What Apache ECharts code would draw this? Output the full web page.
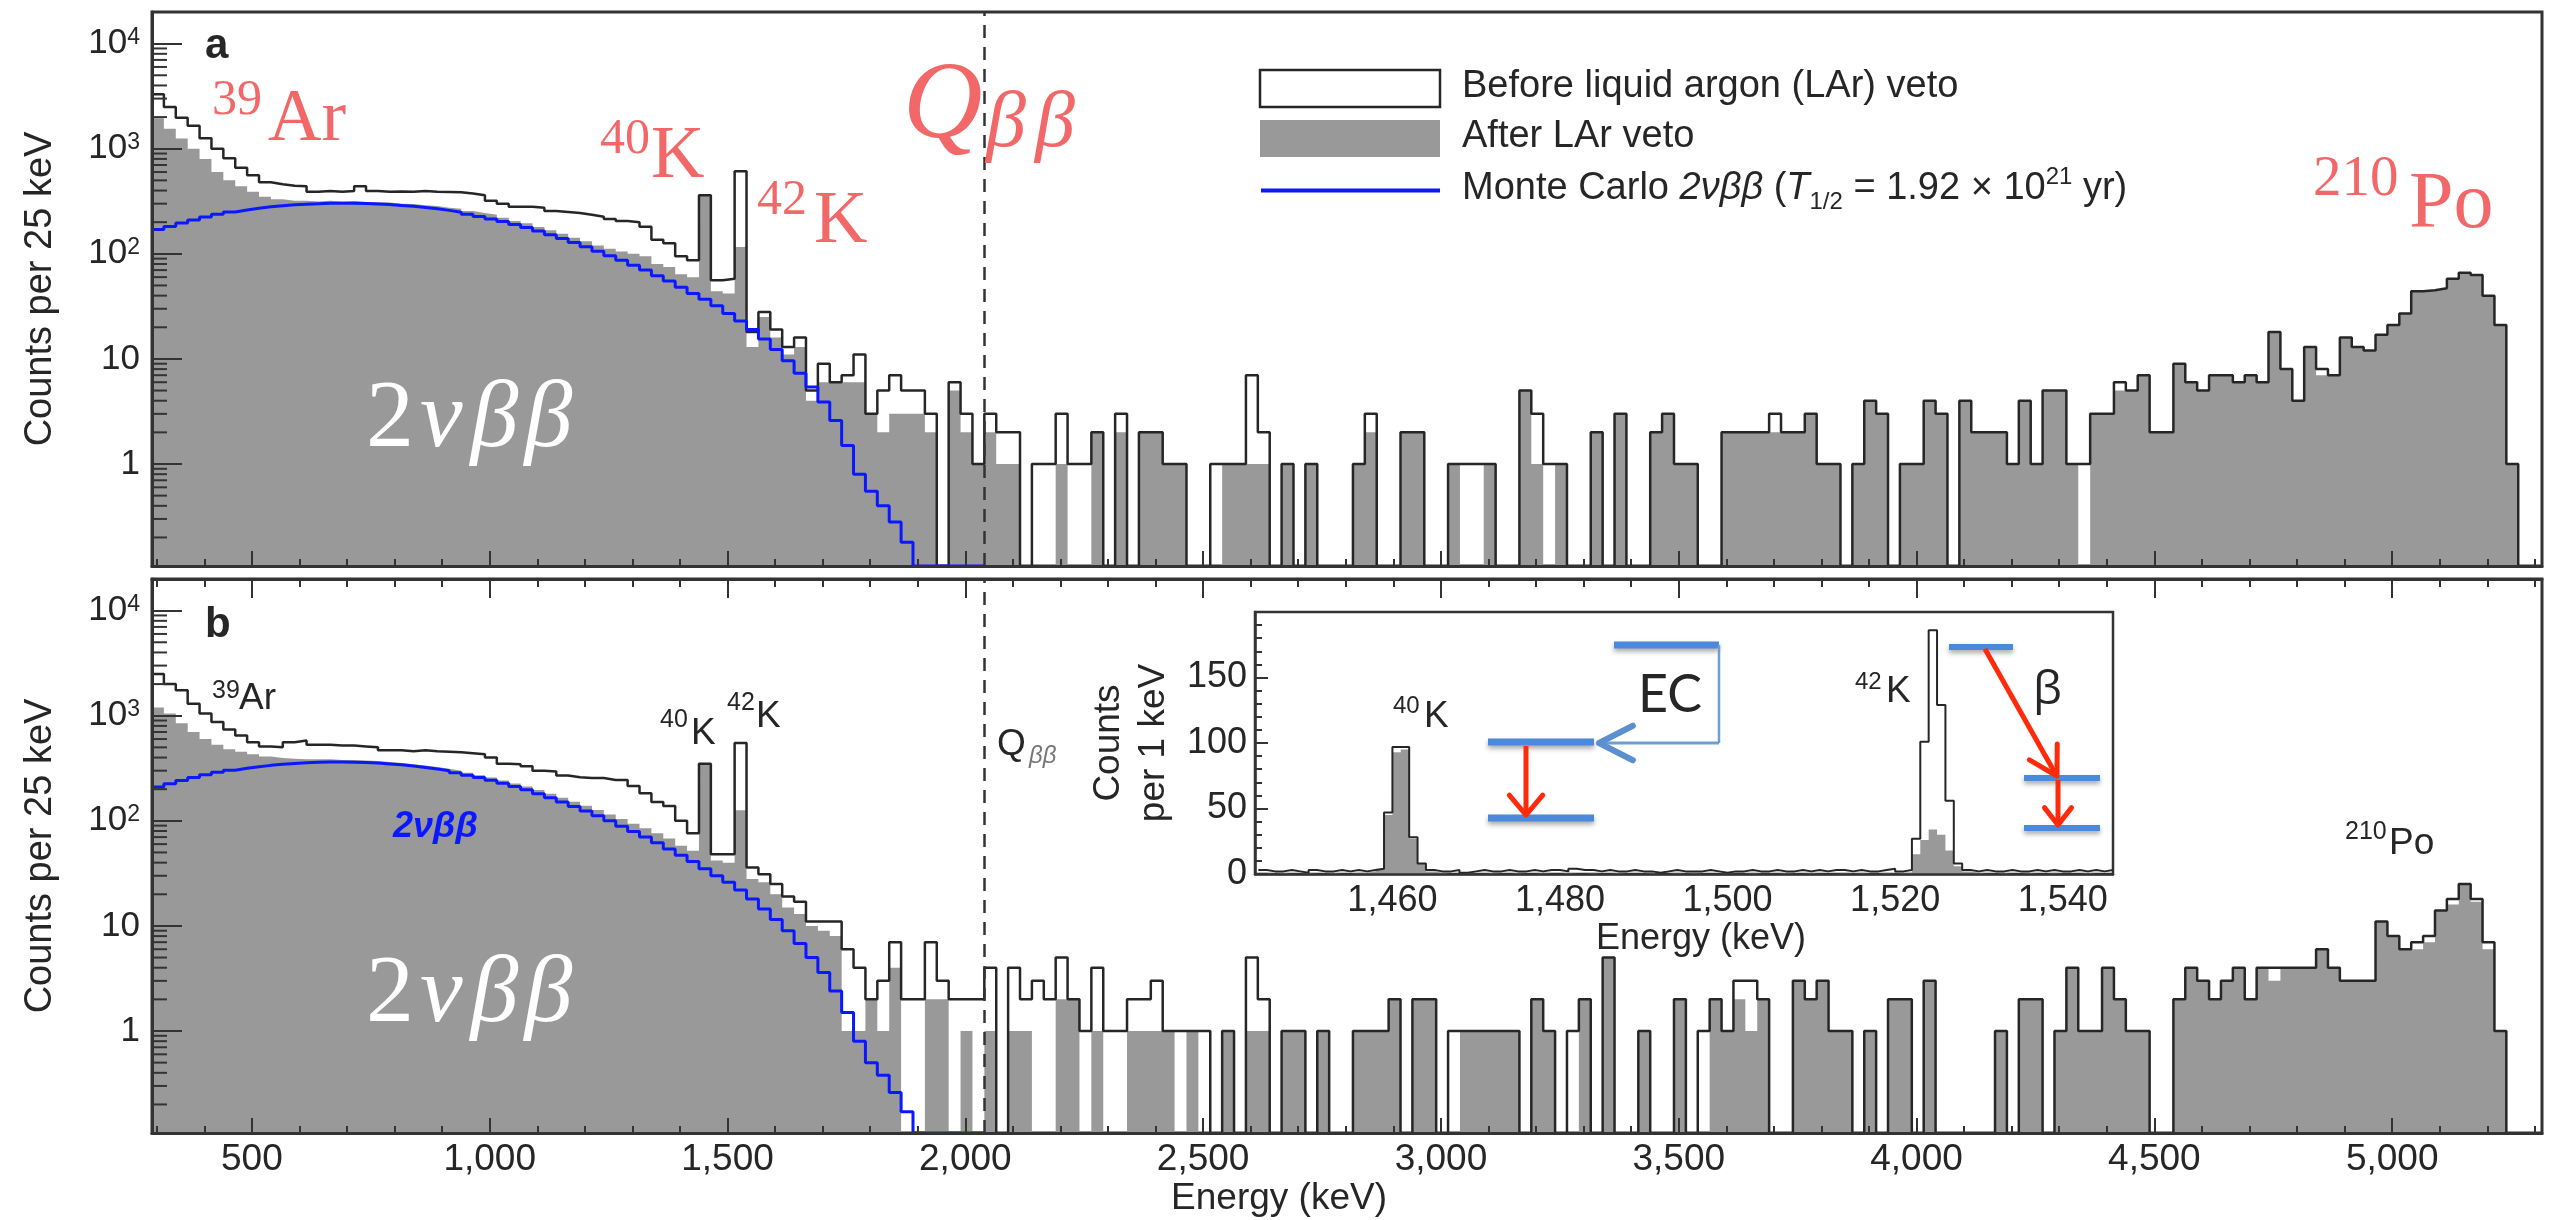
<!DOCTYPE html>
<html>
<head>
<meta charset="utf-8">
<script src="https://cdn.jsdelivr.net/npm/echarts@6.0.0/dist/echarts.min.js"></script>
<style>
  html, body { margin: 0; padding: 0; background: #fff; }
  #chart { width: 2555px; height: 1220px; }
</style>
</head>
<body>
<div id="chart"></div>
<script>
// ---- binning: 25 keV bins starting at 290 keV (bin k covers 290+25k .. 315+25k)
const BIN_START = 290;
const BIN_WIDTH = 25;
const Q_BB = 2039;
const ENERGY_TICKS = [500, 1000, 1500, 2000, 2500, 3000, 3500, 4000, 4500, 5000];

// ---- panel a: counts per 25 keV
const A_BEFORE = [
  3300, 2500, 1970, 1650, 1260, 1000, 810, 660, 560, 480,
  460, 445, 440, 390, 395, 390, 395, 440, 395, 390,
  392, 390, 395, 390, 388, 385, 375, 360, 320, 300,
  280, 280, 275, 255, 250, 245, 235, 225, 215, 205,
  200, 181, 136, 126, 95, 87, 360, 56, 58, 609,
  18, 28, 19, 13, 16, 5, 9, 6, 7, 11,
  3, 5, 7, 5, 5, 3, 0, 6, 3, 1,
  3, 2, 2, 0, 1, 1, 3, 1, 1, 2,
  0, 3, 0, 2, 2, 1, 1, 0, 0, 1,
  1, 1, 7, 2, 0, 1, 0, 1, 0, 0,
  0, 1, 3, 0, 0, 2, 2, 0, 0, 1,
  1, 1, 1, 0, 0, 5, 3, 1, 1, 0,
  0, 2, 0, 3, 0, 0, 2, 3, 1, 1,
  0, 0, 2, 2, 2, 2, 3, 2, 2, 3,
  1, 1, 0, 1, 4, 3, 0, 1, 1, 4,
  3, 0, 4, 2, 2, 2, 1, 4, 1, 5,
  5, 1, 1, 3, 3, 6, 5, 7, 2, 2,
  9, 6, 5, 7, 7, 6, 7, 6, 18, 8,
  4, 13, 8, 7, 16, 13, 12, 17, 21, 27,
  44, 45, 47, 58, 66, 63, 40, 21, 1, 0,
  0
];
const A_AFTER = [
  1950, 1550, 1250, 1000, 800, 600, 500, 440, 390, 350,
  330, 320, 320, 315, 320, 315, 318, 312, 310, 308,
  300, 298, 290, 285, 275, 268, 255, 245, 235, 220,
  205, 195, 180, 168, 155, 142, 132, 120, 112, 105,
  100, 95, 80, 75, 64, 60, 360, 44, 42, 116,
  13, 25, 16, 11, 13, 4, 6, 6, 6, 6,
  3, 2, 3, 3, 3, 2, 0, 5, 2, 1,
  2, 1, 1, 0, 0, 0, 1, 0, 0, 2,
  0, 2, 0, 2, 2, 1, 1, 0, 0, 0,
  1, 1, 1, 1, 0, 1, 0, 1, 0, 0,
  0, 1, 2, 0, 0, 2, 2, 0, 0, 1,
  0, 0, 1, 0, 0, 5, 1, 0, 1, 0,
  0, 2, 0, 3, 0, 0, 2, 3, 1, 1,
  0, 0, 2, 2, 2, 2, 2, 2, 2, 3,
  1, 1, 0, 1, 4, 3, 0, 1, 1, 4,
  3, 0, 4, 2, 2, 2, 1, 4, 1, 5,
  5, 1, 0, 3, 3, 5, 5, 7, 2, 2,
  9, 6, 5, 7, 7, 6, 7, 6, 18, 8,
  4, 13, 7, 7, 16, 13, 12, 17, 21, 27,
  44, 45, 47, 58, 66, 63, 40, 21, 1, 0,
  0
];
const A_MC = [
  170, 182, 196, 210, 224, 238, 250, 261, 271, 280,
  287, 293, 297, 300, 302, 303, 303, 301, 298, 294,
  289, 283, 276, 268, 259, 249, 238, 227, 215, 203,
  190, 178, 165, 152, 140, 128, 117, 106, 96, 87,
  78, 70, 62, 55, 48, 42, 37, 32, 27, 23,
  19, 15.5, 12.3, 9.6, 7.3, 5.4, 3.9, 2.6, 1.5, 0.8,
  0.55, 0.4, 0.28, 0.18, 0, 0, 0, 0, 0, 0
];

// ---- panel b: counts per 25 keV
const B_BEFORE = [
  2500, 2000, 1750, 1300, 1050, 870, 740, 650, 560, 510,
  500, 560, 580, 530, 530, 520, 520, 510, 500, 470,
  470, 460, 470, 460, 455, 450, 440, 430, 400, 350,
  345, 330, 300, 295, 270, 260, 255, 255, 245, 245,
  215, 183, 151, 138, 100, 76, 350, 48, 48, 550,
  36, 31, 25, 19, 17, 11, 11, 11, 6, 4,
  2, 3, 7, 2, 2, 7, 3, 2, 2, 2,
  4, 0, 4, 2, 3, 2, 5, 2, 1, 4,
  1, 1, 2, 2, 3, 1, 1, 1, 1, 0,
  1, 0, 5, 2, 0, 1, 1, 0, 1, 0,
  0, 1, 1, 1, 2, 0, 2, 2, 0, 1,
  1, 1, 1, 1, 1, 0, 2, 1, 0, 1,
  2, 0, 5, 0, 0, 1, 0, 0, 2, 0,
  1, 2, 1, 3, 3, 2, 0, 0, 3, 2,
  3, 1, 1, 0, 1, 0, 2, 2, 0, 3,
  0, 0, 0, 0, 0, 1, 0, 2, 2, 0,
  1, 4, 1, 1, 4, 2, 1, 1, 0, 0,
  2, 4, 3, 2, 3, 4, 2, 4, 4, 4,
  4, 4, 6, 4, 3, 3, 3, 11, 8, 6,
  7, 8, 14, 18, 25, 18, 7, 1, 0, 0,
  0
];
const B_AFTER = [
  1200, 1050, 850, 700, 600, 530, 480, 455, 430, 410,
  395, 390, 385, 385, 385, 380, 380, 375, 370, 362,
  355, 345, 336, 325, 313, 300, 287, 272, 258, 242,
  227, 212, 196, 181, 166, 152, 139, 127, 115, 104,
  94, 85, 76, 68, 58, 52, 340, 42, 40, 126,
  28, 26, 20, 15, 13, 10, 9, 8, 1, 1,
  2, 1, 4, 0, 0, 2, 2, 0, 1, 0,
  1, 0, 1, 1, 0, 0, 2, 2, 0, 1,
  0, 0, 1, 1, 1, 1, 0, 1, 0, 0,
  1, 0, 1, 1, 0, 1, 1, 0, 1, 0,
  0, 1, 1, 1, 2, 0, 2, 2, 0, 0,
  1, 1, 1, 1, 1, 0, 2, 1, 0, 0,
  2, 0, 5, 0, 0, 1, 0, 0, 2, 0,
  0, 2, 1, 2, 1, 2, 0, 0, 3, 2,
  3, 1, 1, 0, 1, 0, 2, 2, 0, 3,
  0, 0, 0, 0, 0, 1, 0, 2, 2, 0,
  1, 4, 1, 1, 4, 2, 1, 1, 0, 0,
  2, 4, 3, 2, 3, 4, 2, 4, 3, 4,
  4, 4, 6, 4, 3, 3, 3, 11, 8, 6,
  6, 7, 14, 16, 25, 17, 6, 1, 0, 0,
  0
];
const B_MC = [
  210, 225, 242, 258, 274, 290, 303, 316, 327, 337,
  345, 352, 357, 360, 362, 362, 361, 358, 354, 348,
  341, 332, 322, 311, 299, 286, 272, 258, 243, 228,
  212, 197, 181, 166, 151, 137, 124, 112, 100, 89,
  79, 70, 62, 54, 47, 41, 35, 30, 26, 22,
  18, 14.5, 11.5, 9, 6.8, 5.0, 3.6, 2.4, 1.5, 0.8,
  0.5, 0.38, 0.26, 0.17, 0, 0, 0, 0, 0, 0
];

// ---- inset: counts per 1 keV, bins starting at 1444 keV
const INSET_START = 1444;
const INSET_TICKS = [1460, 1480, 1500, 1520, 1540];
const INSET_BEFORE = [
  3, 2, 2, 3, 2, 1, 3, 2, 2, 3,
  2, 3, 2, 3, 4, 47, 97, 97, 28, 8,
  3, 2, 2, 3, 1, 2, 3, 2, 2, 3,
  2, 2, 3, 2, 3, 3, 2, 4, 3, 3,
  2, 3, 2, 2, 3, 2, 2, 1, 2, 3,
  2, 2, 2, 3, 2, 1, 2, 2, 3, 2,
  2, 3, 2, 2, 3, 2, 3, 2, 3, 3,
  2, 3, 2, 2, 3, 4, 2, 3, 27, 101,
  186, 129, 56, 8, 3, 2, 3, 2, 2, 3,
  2, 2, 3, 2, 3, 2, 2, 3, 2, 3,
  2, 3
];
const INSET_AFTER = [
  1, 0, 1, 0, 0, 1, 0, 0, 1, 0,
  0, 1, 1, 2, 4, 45, 93, 95, 27, 8,
  2, 1, 0, 0, 1, 0, 0, 1, 0, 0,
  1, 0, 0, 1, 0, 0, 1, 0, 0, 1,
  0, 0, 1, 0, 0, 0, 1, 0, 0, 1,
  0, 1, 0, 0, 0, 1, 0, 0, 1, 0,
  0, 0, 1, 0, 0, 1, 0, 0, 0, 1,
  0, 1, 0, 0, 1, 0, 1, 1, 15, 26,
  34, 30, 18, 6, 2, 1, 0, 0, 1, 0,
  0, 1, 0, 0, 1, 0, 0, 0, 1, 0,
  0, 1
];

// ---- look
const SANS = '"Liberation Sans", Arial, Helvetica, sans-serif';
const SERIF = '"Liberation Serif", "Times New Roman", serif';
const CALI = 'Lato, "Open Sans", sans-serif';
const AXIS = '#333333';
const DARK = '#262626';
const GRAY = '#999999';
const BLUE = '#0a18ff';
const RED = '#f26868';
const LEVEL = '#4a89dc';
const ARROW = '#ff2a0a';
const Y_MIN = 0.107, Y_MAX = 20000;
const X_MIN = 290, X_MAX = 5315;
const ZERO = 0.01; // empty bins drop below the axis and get clipped

function stepData(values, start, width, floor) {
  const pts = values.map((v, i) => [start + i * width, v > 0 ? v : floor]);
  const last = values[values.length - 1];
  pts.push([start + values.length * width, last > 0 ? last : floor]);
  return pts;
}

// minor ticks of the log axes (2..9 x 10^n)
const MINOR_Y = [];
for (let e = -1; e <= 4; e++) {
  for (let n = 2; n <= 9; n++) {
    const v = n * Math.pow(10, e);
    if (v > Y_MIN && v < Y_MAX) MINOR_Y.push([X_MIN, v]);
  }
}

function decadeLabel(v) {
  const l = Math.log10(v), e = Math.round(l);
  if (Math.abs(l - e) > 1e-6) return '';
  if (e === 0) return '1';
  if (e === 1) return '10';
  return '10{s|' + e + '}';
}

function energyAxis(gridIndex, position, labels, major, minor) {
  return {
    type: 'value', gridIndex, position, min: X_MIN, max: X_MAX, splitNumber: 10, z: 10,
    axisLine: { show: true, onZero: false, lineStyle: { color: AXIS, width: 3 } },
    axisTick: { show: true, inside: true, length: major, customValues: ENERGY_TICKS,
                lineStyle: { color: AXIS, width: 2 } },
    minorTick: { show: true, splitNumber: 5, length: minor, lineStyle: { color: AXIS, width: 2 } },
    axisLabel: { show: labels, customValues: ENERGY_TICKS, margin: 8, fontSize: 37,
                 fontFamily: SANS, color: DARK,
                 formatter: v => Number(v).toLocaleString('en-US') },
    splitLine: { show: false }
  };
}

function countAxis(gridIndex) {
  return {
    type: 'log', logBase: 10, gridIndex, min: Y_MIN, max: Y_MAX, z: 10,
    name: 'Counts per 25 keV', nameLocation: 'middle', nameRotate: 90, nameGap: 92,
    nameTextStyle: { fontSize: 38, fontFamily: SANS, color: DARK },
    axisLine: { show: true, lineStyle: { color: AXIS, width: 3 } },
    axisTick: { show: true, inside: true, length: 30, lineStyle: { color: AXIS, width: 2 } },
    axisLabel: { margin: 12, fontSize: 35, fontFamily: SANS, color: DARK, formatter: decadeLabel,
                 rich: { s: { fontSize: 23, fontFamily: SANS, color: DARK, verticalAlign: 'top' } } },
    splitLine: { show: false }
  };
}

function histSeries(name, values, xi, yi, kind) {
  const s = {
    name, type: 'line', xAxisIndex: xi, yAxisIndex: yi, step: 'end',
    symbol: 'none', showSymbol: false, silent: true, animation: false
  };
  if (kind === 'after') {
    s.data = stepData(values, BIN_START, BIN_WIDTH, ZERO);
    s.lineStyle = { width: 0, opacity: 0 };
    s.areaStyle = { color: GRAY, opacity: 1, origin: 'start' };
    s.z = 2;
  } else if (kind === 'before') {
    s.data = stepData(values, BIN_START, BIN_WIDTH, ZERO);
    s.lineStyle = { color: DARK, width: 2.5 };
    s.z = 3;
    s.markLine = {
      silent: true, symbol: ['none', 'none'], label: { show: false }, animation: false,
      lineStyle: { color: '#333', width: 2.5, type: [13, 9] },
      data: [{ xAxis: Q_BB }]
    };
  } else {
    s.data = stepData(values, BIN_START, BIN_WIDTH, Y_MIN);
    s.lineStyle = { color: BLUE, width: 3 };
    s.clip = false;
    s.z = 4;
  }
  return s;
}

function minorTickSeries(xi, yi) {
  return {
    type: 'custom', xAxisIndex: xi, yAxisIndex: yi, silent: true, clip: false, z: 11,
    data: MINOR_Y, encode: { x: 0, y: 1 },
    renderItem: (params, api) => {
      const p = api.coord([api.value(0), api.value(1)]);
      return { type: 'line', shape: { x1: p[0], y1: p[1], x2: p[0] + 15, y2: p[1] },
               style: { stroke: AXIS, lineWidth: 2 } };
    }
  };
}

// ---- text helpers for annotations
const measure = document.createElement('canvas').getContext('2d');
function txt(x, baseline, text, size, o) {
  o = o || {};
  const font = (o.italic ? 'italic ' : '') + (o.bold ? 'bold ' : '') + size + 'px ' + (o.family || SANS);
  return {
    type: 'text', x, y: baseline - 0.31 * size, z: 100, silent: true,
    style: { text, font, fill: o.color || DARK, align: 'left', verticalAlign: 'middle',
             textAlign: 'left', textVerticalAlign: 'middle' }
  };
}
function run(x, baseline, parts) {
  const out = [];
  let cx = x;
  parts.forEach(([text, size, o]) => {
    o = o || {};
    cx += o.dx || 0;
    const el = txt(cx, baseline + (o.dy || 0), text, size, o);
    out.push(el);
    measure.font = el.style.font;
    cx += measure.measureText(text).width;
  });
  return out;
}
function seg(x1, y1, x2, y2, color, width, shadow) {
  const style = { stroke: color, lineWidth: width, lineCap: 'butt' };
  if (shadow) Object.assign(style, { shadowBlur: 5, shadowColor: 'rgba(0,0,0,0.35)', shadowOffsetY: 3 });
  return { type: 'line', z: 100, silent: true, shape: { x1, y1, x2, y2 }, style };
}
function chevron(tip, from, len, deg, color, width) {
  const ang = Math.atan2(from[1] - tip[1], from[0] - tip[0]);
  const a = deg * Math.PI / 180;
  const p1 = [tip[0] + len * Math.cos(ang + a), tip[1] + len * Math.sin(ang + a)];
  const p2 = [tip[0] + len * Math.cos(ang - a), tip[1] + len * Math.sin(ang - a)];
  return { type: 'polyline', z: 101, silent: true, shape: { points: [p1, tip, p2] },
           style: { stroke: color, lineWidth: width, fill: 'none', lineCap: 'round', lineJoin: 'round' } };
}

const serifRed = { family: SERIF, color: RED };
const graphics = [].concat(
  // panel a
  [txt(205, 59, 'a', 42, { bold: true })],
  [txt(212, 116, '39', 50, serifRed), txt(268, 144, 'Ar', 74, serifRed)],
  [txt(600, 155, '40', 50, serifRed), txt(651, 181, 'K', 74, serifRed)],
  [txt(757, 216, '42', 50, serifRed), txt(814, 246, 'K', 74, serifRed)],
  [txt(903, 142, 'Q', 110, { family: SERIF, color: RED, italic: true }),
   txt(986, 150, 'β', 80, { family: SERIF, color: RED, italic: true }),
   txt(1035, 150, 'β', 80, { family: SERIF, color: RED, italic: true })],
  [txt(2313, 198, '210', 57, serifRed), txt(2409, 231, 'Po', 80, serifRed)],
  run(366, 451, [['2', 96, { family: SERIF, color: '#fff' }],
                 ['ν', 96, { family: SERIF, color: '#fff', italic: true, dx: 6 }],
                 ['β', 96, { family: SERIF, color: '#fff', italic: true, dx: 8 }],
                 ['β', 96, { family: SERIF, color: '#fff', italic: true, dx: 6 }]]),
  // legend of panel a
  [{ type: 'rect', z: 100, silent: true, shape: { x: 1260, y: 70, width: 180, height: 37 },
     style: { fill: '#fff', stroke: DARK, lineWidth: 2.5 } },
   { type: 'rect', z: 100, silent: true, shape: { x: 1260, y: 120, width: 180, height: 37 },
     style: { fill: GRAY } },
   seg(1261, 190.5, 1440, 190.5, BLUE, 4)],
  [txt(1462, 98, 'Before liquid argon (LAr) veto', 38), txt(1462, 148, 'After LAr veto', 38)],
  run(1462, 200, [['Monte Carlo ', 38], ['2νββ', 38, { italic: true }], [' (', 38],
                  ['T', 38, { italic: true }], ['1/2', 24, { dy: 10 }], [' = 1.92 × 10', 38],
                  ['21', 24, { dy: -15 }], [' yr)', 38]]),
  // panel b
  [txt(205, 638, 'b', 42, { bold: true })],
  [txt(212, 699, '39', 25), txt(239, 710, 'Ar', 37)],
  [txt(660, 728, '40', 25), txt(691, 745, 'K', 37)],
  [txt(727, 711, '42', 25), txt(756, 728, 'K', 37)],
  [txt(997, 756, 'Q', 37), txt(1029, 764, 'ββ', 24, { italic: true, color: '#777' })],
  [txt(2345, 840, '210', 25), txt(2389, 855, 'Po', 37)],
  [txt(393, 838, '2νββ', 36, { italic: true, bold: true, color: BLUE })],
  run(366, 1026, [['2', 96, { family: SERIF, color: '#fff' }],
                  ['ν', 96, { family: SERIF, color: '#fff', italic: true, dx: 6 }],
                  ['β', 96, { family: SERIF, color: '#fff', italic: true, dx: 8 }],
                  ['β', 96, { family: SERIF, color: '#fff', italic: true, dx: 6 }]]),
  // inset labels
  [txt(1393, 714, '40', 24), txt(1424, 728, 'K', 37)],
  [txt(1855, 690, '42', 24), txt(1886, 703, 'K', 37)],
  // EC level scheme
  [seg(1614, 645, 1719, 645, LEVEL, 7, true),
   seg(1719, 645, 1719, 743, '#6d9fd6', 2.5),
   seg(1719, 743, 1602, 743, '#6d9fd6', 3),
   chevron([1599, 743], [1719, 743], 38, 27, '#5b8fcf', 6),
   seg(1488, 742, 1594, 742, LEVEL, 7, true),
   seg(1488, 818, 1594, 818, LEVEL, 7, true),
   seg(1526, 746, 1526, 812, ARROW, 5),
   chevron([1526, 815], [1526, 746], 26, 40, ARROW, 5),
   txt(1638, 711, 'EC', 52, { family: CALI })],
  // beta level scheme
  [seg(1949, 647, 2013, 647, LEVEL, 6, true),
   seg(2024, 778, 2100, 778, LEVEL, 6, true),
   seg(2024, 828, 2100, 828, LEVEL, 6, true),
   seg(1985, 649, 2055, 773, ARROW, 5),
   chevron([2057, 776], [1985, 649], 32, 30, ARROW, 5),
   seg(2058, 780, 2058, 822, ARROW, 5),
   chevron([2058, 825], [2058, 780], 22, 38, ARROW, 5),
   txt(2033, 705, 'β', 46, { family: '"Open Sans", "DejaVu Sans", sans-serif' })]
);

const chart = echarts.init(document.getElementById('chart'), null, { renderer: 'canvas' });
chart.setOption({
  animation: false,
  backgroundColor: '#fff',
  grid: [
    { left: 152, top: 12, width: 2390, height: 554, show: true, borderColor: AXIS, borderWidth: 3,
      backgroundColor: 'transparent' },
    { left: 152, top: 579, width: 2390, height: 554, show: true, borderColor: AXIS, borderWidth: 3,
      backgroundColor: 'transparent' },
    { left: 1255, top: 612, width: 858, height: 262, show: true, borderColor: AXIS, borderWidth: 2.5,
      backgroundColor: '#fff', z: 5 }
  ],
  xAxis: [
    energyAxis(0, 'bottom', false, 15, 7),
    Object.assign(energyAxis(1, 'bottom', true, 15, 7), {
      name: 'Energy (keV)', nameLocation: 'middle', nameGap: 47,
      nameTextStyle: { fontSize: 37, fontFamily: SANS, color: DARK, padding: [0, 136, 0, 0] }
    }),
    energyAxis(1, 'top', false, 19, 8),
    {
      type: 'value', gridIndex: 2, min: 1443.6, max: 1546, splitNumber: 5, z: 10,
      axisLine: { show: true, onZero: false, lineStyle: { color: AXIS, width: 2.5 } },
      axisTick: { show: false },
      axisLabel: { customValues: INSET_TICKS, margin: 9, fontSize: 36, fontFamily: SANS, color: DARK,
                   formatter: v => Number(v).toLocaleString('en-US') },
      splitLine: { show: false },
      name: 'Energy (keV)', nameLocation: 'middle', nameGap: 47,
      nameTextStyle: { fontSize: 36, fontFamily: SANS, color: DARK, padding: [0, 0, 0, 34] }
    }
  ],
  yAxis: [
    countAxis(0),
    countAxis(1),
    {
      type: 'value', gridIndex: 2, min: 0, max: 200, interval: 50, z: 10,
      axisLine: { show: true, lineStyle: { color: AXIS, width: 2.5 } },
      axisTick: { show: true, inside: true, length: 13, lineStyle: { color: AXIS, width: 2 } },
      minorTick: { show: true, splitNumber: 5, length: 7, lineStyle: { color: AXIS, width: 2 } },
      axisLabel: { margin: 8, fontSize: 36, fontFamily: SANS, color: DARK,
                   formatter: v => (v >= 200 ? '' : String(v)) },
      splitLine: { show: false },
      name: 'Counts\nper 1 keV', nameLocation: 'middle', nameRotate: 90, nameGap: 79,
      nameTextStyle: { fontSize: 37, fontFamily: SANS, color: DARK, lineHeight: 45 }
    }
  ],
  series: [
    histSeries('After LAr veto', A_AFTER, 0, 0, 'after'),
    histSeries('Before liquid argon (LAr) veto', A_BEFORE, 0, 0, 'before'),
    histSeries('Monte Carlo 2νββ', A_MC, 0, 0, 'mc'),
    minorTickSeries(0, 0),
    histSeries('After LAr veto (b)', B_AFTER, 1, 1, 'after'),
    histSeries('Before LAr veto (b)', B_BEFORE, 1, 1, 'before'),
    histSeries('Monte Carlo (b)', B_MC, 1, 1, 'mc'),
    minorTickSeries(1, 1),
    {
      name: 'Inset after', type: 'line', xAxisIndex: 3, yAxisIndex: 2, step: 'end',
      symbol: 'none', silent: true, z: 6,
      data: stepData(INSET_AFTER, INSET_START, 1, 0),
      lineStyle: { width: 0, opacity: 0 }, areaStyle: { color: GRAY, opacity: 1, origin: 'start' }
    },
    {
      name: 'Inset before', type: 'line', xAxisIndex: 3, yAxisIndex: 2, step: 'end',
      symbol: 'none', silent: true, z: 7,
      data: stepData(INSET_BEFORE, INSET_START, 1, 0),
      lineStyle: { color: DARK, width: 2 }
    }
  ],
  graphic: graphics
});
</script>
</body>
</html>
